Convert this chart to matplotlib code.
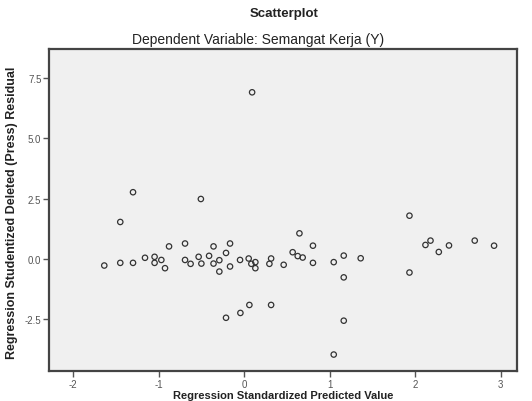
import matplotlib
matplotlib.use("Agg")
import matplotlib.pyplot as plt

plt.rcParams['font.family'] = ['Liberation Sans', 'DejaVu Sans']

# Data (standardized predicted value, studentized deleted residual)
pred = [-1.634, -1.447, -1.447, -1.298, -1.298, -1.158, -1.046, -1.046, -0.967, -0.924,
        -0.877, -0.690, -0.690, -0.625, -0.531, -0.505, -0.499, -0.409, -0.357, -0.357,
        -0.289, -0.289, -0.211, -0.164, -0.164, -0.047, 0.054, 0.094, 0.085, 0.132,
        0.132, 0.316, 0.296, 0.463, 0.568, 0.627, 0.647, 0.685, 0.805, 0.805,
        1.048, 1.165, 1.363, 1.165, 1.165, 1.048, 1.933, 1.933, 2.120, 2.179,
        2.276, 2.395, 2.696, 2.922, -0.211, -0.043, 0.062, 0.316]
resid = [-0.27, 1.53, -0.16, 2.76, -0.16, 0.05, 0.09, -0.16, -0.04, -0.38,
         0.52, 0.64, -0.04, -0.20, 0.09, 2.48, -0.19, 0.13, 0.52, -0.19,
         -0.05, -0.52, 0.25, 0.64, -0.31, -0.04, 0.02, 6.89, -0.20, -0.13,
         -0.38, 0.02, -0.20, -0.24, 0.28, 0.12, 1.06, 0.06, 0.55, -0.16,
         -0.13, 0.14, 0.03, -0.76, -2.55, -3.95, 1.79, -0.56, 0.58, 0.76,
         0.29, 0.56, 0.76, 0.55, -2.43, -2.23, -1.90, -1.90]

xticks = [-2, -1, 0, 1, 2, 3]
xtick_labels = ['-2', '-1', '0', '1', '2', '3']
yticks = [-2.5, 0.0, 2.5, 5.0, 7.5]
ytick_labels = ['-2.5', '0.0', '2.5', '5.0', '7.5']

title = "Scatterplot"
subtitle = "Dependent Variable: Semangat Kerja (Y)"
xlabel = "Regression Standardized Predicted Value"
ylabel = "Regression Studentized Deleted (Press) Residual"

W, H = 532, 402
fig = plt.figure(figsize=(W / 100, H / 100), dpi=100)
fig.patch.set_facecolor('white')
ax = fig.add_axes([49 / W, 1 - 372 / H, (517 - 49) / W, (372 - 50) / H])
ax.set_facecolor('#f0f0f0')

ax.scatter(pred, resid, s=15, facecolors='none', edgecolors='#333333', linewidths=0.9, zorder=3)

ax.set_xlim(-2.28, 3.19)
ax.set_ylim(-4.63, 8.68)
ax.set_xticks(xticks)
ax.set_xticklabels(xtick_labels)
ax.set_yticks(yticks)
ax.set_yticklabels(ytick_labels)
ax.tick_params(direction='out', length=4, width=1, colors='#555555', labelsize=7, pad=1.5)

for sp in ax.spines.values():
    sp.set_color('#444444')
    sp.set_linewidth(1.6)

fig.text(284 / W, 1 - 14 / H, title, ha='center', va='center', fontsize=9.5, fontweight='bold', color='#222222')
fig.text(258 / W, 1 - 40 / H, subtitle, ha='center', va='center', fontsize=10, color='#222222')
fig.text(12 / W, 1 - 213 / H, ylabel, ha='center', va='center', rotation=90, fontsize=9, fontweight='bold', color='#222222')
fig.text(283 / W, 1 - 401.5 / H, xlabel, ha='center', va='bottom', fontsize=8, fontweight='bold', color='#222222')

fig.savefig('out.png', dpi=100, facecolor='white')
